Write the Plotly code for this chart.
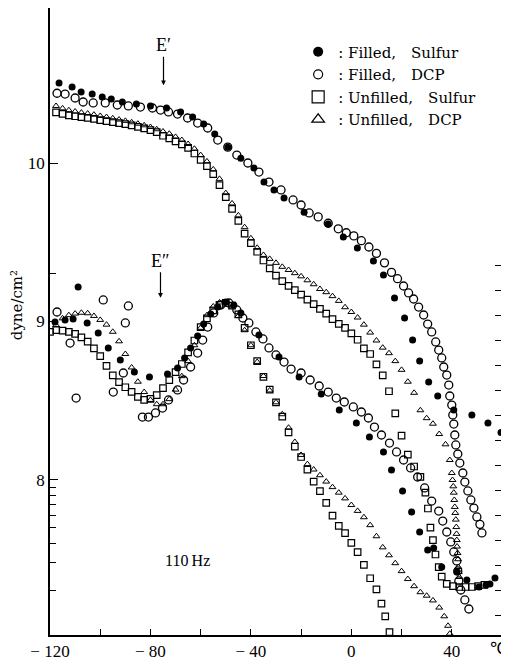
import plotly.graph_objects as go

# ---------------- data: temperature (°C) and log10 modulus (dyne/cm²) ----------------
# E' , Filled, Sulfur
fs_Ep_T = [-116.4, -111.2, -107.6, -103.2, -99.2, -95.6, -91.2, -85.6, -80, -73.6, -68, -63.2, -58.8, -54.4,
           -49.2, -44, -38.8, -34.8, -30.8, -26.8, -18.8, -9.2, -3.2, 2.4, 8.8, 12.8, 17.2, 21.2, 24.4, 27.2,
           30.8, 34.4, 40.8, 48, 54.4, 59.6]
fs_Ep_L = [10.505, 10.48, 10.448, 10.435, 10.416, 10.404, 10.385, 10.372, 10.36, 10.347, 10.322, 10.29, 10.246,
           10.183, 10.10, 10.03, 9.968, 9.88, 9.83, 9.78, 9.69, 9.615, 9.533, 9.464, 9.382, 9.293, 9.148, 9.022,
           8.883, 8.751, 8.618, 8.53, 8.442, 8.41, 8.36, 8.30]

# E' , Filled, DCP
fd_Ep_T = [-117.2, -114, -110, -106.8, -102.8, -98, -93.2, -88.8, -84, -79.2, -76, -72.8, -69.2, -65.2, -61.2,
           -57.2, -53.2, -49.2, -45.6, -41.2, -36.8, -32.8, -28, -23.2, -20, -16.8, -13.2, -9.2, -5.2, -2, 1, 4,
           7, 10, 13.2, 16, 18.4, 20.8, 22.8, 24.8, 26.8, 28.8, 30.4, 32, 33.6, 34.8, 36, 36.8, 38, 38.8, 39.2,
           40, 40.4, 40.8, 41.2, 41.6, 42.4, 43.2, 44.4, 45.2, 46.4, 47.6, 48.8, 50, 51.2, 52]
fd_Ep_L = [10.44, 10.435, 10.41, 10.385, 10.379, 10.379, 10.366, 10.36, 10.353, 10.347, 10.334, 10.322, 10.309,
           10.284, 10.252, 10.221, 10.145, 10.10, 10.05, 10.0, 9.943, 9.88, 9.83, 9.767, 9.735, 9.685, 9.66, 9.62,
           9.585, 9.56, 9.54, 9.51, 9.47, 9.43, 9.37, 9.31, 9.27, 9.224, 9.18, 9.142, 9.091, 9.041, 8.984, 8.934,
           8.871, 8.82, 8.77, 8.713, 8.662, 8.599, 8.53, 8.473, 8.41, 8.353, 8.284, 8.221, 8.164, 8.107, 8.044,
           7.987, 7.931, 7.874, 7.823, 7.767, 7.72, 7.666]

# E' , Unfilled, Sulfur
us_Ep_T = [-117.6, -115, -112.5, -110, -107.5, -105, -102.5, -100, -97.5, -95, -92.5, -90, -87.5, -85, -82.5,
           -80, -77.5, -75, -72.5, -70, -67.5, -65, -62.5, -60, -57.5, -55, -52.5, -50, -47.5, -45, -42.5, -40,
           -37.5, -35, -32.5, -30, -27.5, -25, -22.5, -20, -17.5, -15, -12.5, -10, -7.5, -5, -2.5, 0, 2.5, 5,
           7.5, 10, 12.5, 15, 17.5, 20, 22.5, 25, 27.5, 29.5, 30.5, 31.5, 32.5, 33.5, 34.8, 36, 38, 40.5, 43,
           45.5, 48, 50.5, 53]
us_Ep_L = [10.32, 10.31, 10.30, 10.295, 10.29, 10.285, 10.278, 10.27, 10.264, 10.258, 10.252, 10.245, 10.238,
           10.228, 10.218, 10.208, 10.195, 10.172, 10.155, 10.136, 10.118, 10.095, 10.06, 10.02, 9.98, 9.93, 9.86,
           9.785, 9.71, 9.635, 9.555, 9.495, 9.44, 9.385, 9.335, 9.29, 9.255, 9.225, 9.198, 9.17, 9.138, 9.11,
           9.08, 9.05, 9.015, 8.985, 8.96, 8.925, 8.885, 8.83, 8.795, 8.73, 8.66, 8.56, 8.42, 8.28, 8.16, 8.085,
           8.02, 7.92, 7.82, 7.70, 7.62, 7.53, 7.45, 7.39, 7.345, 7.33, 7.325, 7.325, 7.325, 7.33, 7.338]

# E' , Unfilled, DCP
ud_Ep_T = [-117.6, -115, -112.5, -110, -107.5, -105, -102.5, -100, -97.5, -95, -92.5, -90, -87.5, -85, -82.5,
           -80, -77.5, -75, -72.5, -70, -67.5, -65, -62.5, -60, -57.5, -55, -52.5, -50, -47.5, -45, -42.5, -40,
           -37.5, -35, -32.5, -30, -27.5, -25, -22.5, -20, -17.5, -15, -12.5, -10, -7.5, -5, -2.5, 0, 2.5, 5,
           7.5, 10, 12.5, 15, 17.5, 20, 22.5, 25, 27.5, 30, 32.5, 35, 37.5, 39.2, 40, 40.3, 40.6, 40.8, 41,
           41.2, 41.4, 41.6, 41.8, 41.9, 42, 42.1, 42.3, 42.5, 42.6, 42.8, 43]
ud_Ep_L = [10.36, 10.345, 10.333, 10.325, 10.318, 10.312, 10.305, 10.297, 10.29, 10.282, 10.274, 10.266, 10.257,
           10.248, 10.238, 10.227, 10.213, 10.199, 10.185, 10.165, 10.145, 10.12, 10.09, 10.05, 10.01, 9.96, 9.9,
           9.81, 9.745, 9.67, 9.595, 9.525, 9.465, 9.42, 9.395, 9.37, 9.345, 9.325, 9.305, 9.285, 9.26, 9.235,
           9.205, 9.185, 9.16, 9.13, 9.09, 9.06, 9.025, 8.98, 8.93, 8.88, 8.835, 8.8, 8.75, 8.695, 8.62, 8.55,
           8.44, 8.39, 8.355, 8.29, 8.225, 8.126, 8.044, 8.0, 7.96, 7.92, 7.874, 7.83, 7.792, 7.75, 7.703, 7.66,
           7.621, 7.58, 7.539, 7.50, 7.451, 7.42, 7.388]

# E'' , Filled, Sulfur
fs_Epp_T = [-118, -114, -110.8, -108.8, -105.2, -100.8, -96.8, -92, -86.4, -80.4, -73.2, -69.2, -66.4, -64,
            -61.2, -58.8, -56, -53.2, -50, -46.8, -44, -36.8, -28.8, -20.8, -12, -4.8, 2, 7.2, 12.8, 16, 20.4,
            24, 27.2, 30.4, 32.8, 36, 42, 46, 50.8, 53.6, 55.2, 57.2]
fs_Epp_L = [8.997, 9.009, 9.016, 9.218, 8.99, 8.927, 8.833, 8.757, 8.681, 8.65, 8.669, 8.707, 8.77, 8.833,
            8.909, 8.984, 9.047, 9.091, 9.123, 9.104, 9.054, 8.915, 8.776, 8.650, 8.543, 8.442, 8.36, 8.271,
            8.177, 8.063, 7.931, 7.798, 7.672, 7.558, 7.571, 7.451, 7.420, 7.369, 7.325, 7.338, 7.344, 7.382]

# E'' , Filled, DCP
fd_Epp_T = [-117.2, -112, -109.6, -98.8, -94.8, -90.8, -90, -88.8, -83.2, -80.8, -78, -75.2, -72.8, -69.2,
            -66.8, -64, -61.2, -59.2, -57.2, -54.8, -52, -48.8, -45.6, -43.2, -40.8, -38, -35.2, -32.8, -30,
            -26.8, -24, -20, -16.4, -12.8, -9.2, -6, -2.8, 0.8, 4, 6.8, 9.2, 12, 15.2, 18, 20.8, 23.6, 26.4,
            29.2, 32, 34.8, 36.4, 38, 39.6, 40.8, 42, 42.4, 42.8, 43.6, 45.2, 46.8]
fd_Epp_L = [9.06, 8.864, 8.517, 9.136, 8.555, 8.675, 8.991, 9.098, 8.397, 8.397, 8.423, 8.454, 8.505, 8.568,
            8.631, 8.713, 8.801, 8.883, 8.965, 9.054, 9.104, 9.117, 9.073, 9.022, 8.991, 8.934, 8.890, 8.833,
            8.789, 8.744, 8.700, 8.675, 8.631, 8.593, 8.555, 8.517, 8.492, 8.461, 8.429, 8.391, 8.334, 8.284,
            8.233, 8.177, 8.126, 8.076, 8.019, 7.950, 7.867, 7.804, 7.741, 7.672, 7.609, 7.546, 7.489, 7.426,
            7.363, 7.306, 7.243, 7.186]

# E'' , Unfilled, Sulfur
us_Epp_T = [-120, -117.5, -115, -112.5, -110, -107.5, -105, -102.5, -100, -97.5, -95, -92.5, -90, -87.5, -85,
            -82.5, -80, -77.5, -75, -72.5, -70, -67.5, -65, -62.5, -60, -57.5, -55, -52.5, -50, -47.5, -45,
            -42.5, -40, -37.5, -35, -32.5, -30, -27.5, -25, -22.5, -20, -17.5, -15, -12.5, -10, -7.5, -5,
            -2.5, 0, 2.5, 5, 7.5, 10, 12, 13.5, 15.2]
us_Epp_L = [8.934, 8.945, 8.942, 8.935, 8.922, 8.9, 8.873, 8.83, 8.782, 8.72, 8.66, 8.618, 8.585, 8.556, 8.525,
            8.505, 8.512, 8.535, 8.58, 8.63, 8.681, 8.732, 8.805, 8.88, 8.965, 9.02, 9.07, 9.105, 9.118, 9.1,
            9.045, 8.96, 8.85, 8.75, 8.65, 8.57, 8.49, 8.40, 8.30, 8.21, 8.145, 8.065, 7.99, 7.93, 7.855, 7.775,
            7.71, 7.665, 7.603, 7.545, 7.465, 7.38, 7.31, 7.22, 7.14, 7.04]

# E'' , Unfilled, DCP
ud_Epp_T = [-117.6, -115, -112.5, -110, -107.5, -105, -102.5, -100, -97.5, -95, -92.5, -90, -87.5, -85, -82.5,
            -80, -77.5, -75, -72.5, -70, -67.5, -65, -62.5, -60, -57.5, -55, -52.5, -50, -47.5, -45, -42.5, -40,
            -37.5, -35, -32.5, -30, -27.5, -25, -22.5, -20, -17.5, -15, -12.5, -10, -7.5, -5, -2.5, 0, 2.5, 5,
            7.5, 10, 12.5, 15, 17.5, 20, 22.5, 25, 27.5, 30, 32.5, 35, 37, 38.5, 39.2]
ud_Epp_L = [8.978, 9.02, 9.04, 9.05, 9.055, 9.052, 9.035, 9.01, 8.98, 8.935, 8.875, 8.795, 8.71, 8.62, 8.555,
            8.505, 8.478, 8.478, 8.51, 8.57, 8.655, 8.75, 8.85, 8.96, 9.04, 9.095, 9.12, 9.12, 9.095, 9.035,
            8.945, 8.85, 8.745, 8.656, 8.565, 8.49, 8.415, 8.33, 8.24, 8.158, 8.1, 8.066, 8.03, 7.99, 7.955,
            7.92, 7.884, 7.842, 7.805, 7.765, 7.715, 7.645, 7.575, 7.525, 7.475, 7.425, 7.375, 7.33, 7.292,
            7.27, 7.24, 7.195, 7.14, 7.08, 7.03]

legend_names = [": Filled,\u2003Sulfur", ": Filled,\u2003DCP",
                ": Unfilled,\u2003Sulfur", ": Unfilled,\u2003DCP"]

x_tickvals = [-120, -100, -80, -60, -40, -20, 0, 20, 40, 60]
x_ticktext = ["\u2212 120", "", "\u2212 80", "", "\u2212 40", "", "0", "", "40", ""]
x_unit = "\u2103"
y_tickvals = [8, 9, 10]
y_ticktext = ["8", "9", "10"]
y_minor = [7.301, 7.477, 7.602, 7.699, 7.778, 7.845, 7.903, 7.954, 9.301]
right_ticks = [0.01, 0.02, 0.03, 0.04, 0.05, 0.06, 0.07, 0.08, 0.09, 0.10, 0.11, 0.12, 0.13, 0.14, 0.15]

# ---------------- styles ----------------
FONT = "Liberation Serif"
LFONT = "DejaVu Serif"
styles = [
    dict(symbol="circle", size=7, color="black", line=dict(width=0, color="black")),
    dict(symbol="circle-open", size=8, color="black", line=dict(width=1.3, color="black")),
    dict(symbol="square-open", size=6.5, color="black", line=dict(width=1.2, color="black")),
    dict(symbol="triangle-up-open", size=6, color="black", line=dict(width=1.0, color="black")),
]
legend_styles = [
    dict(symbol="circle", size=10, color="black"),
    dict(symbol="circle-open", size=9, color="black", line=dict(width=1.2, color="black")),
    dict(symbol="square-open", size=12, color="black", line=dict(width=1.2, color="black")),
    dict(symbol="triangle-up-open", size=11, color="black", line=dict(width=1.2, color="black")),
]

series = [
    (fs_Ep_T, fs_Ep_L, fs_Epp_T, fs_Epp_L),
    (fd_Ep_T, fd_Ep_L, fd_Epp_T, fd_Epp_L),
    (us_Ep_T, us_Ep_L, us_Epp_T, us_Epp_L),
    (ud_Ep_T, ud_Ep_L, ud_Epp_T, ud_Epp_L),
]

fig = go.Figure()
# draw unfilled first so filled symbols sit on top
for i in [3, 2, 1, 0]:
    t1, l1, t2, l2 = series[i]
    for tt, ll in ((t1, l1), (t2, l2)):
        fig.add_trace(go.Scatter(x=tt, y=ll, mode="markers", marker=styles[i],
                                 showlegend=False, hoverinfo="x+y"))

for i in range(4):
    fig.add_trace(go.Scatter(x=[None], y=[None], mode="markers", marker=legend_styles[i],
                             name=legend_names[i], showlegend=True))

# dummy trace to activate the right-hand tick axis
fig.add_trace(go.Scatter(x=[None], y=[None], yaxis="y2", showlegend=False, hoverinfo="skip"))

# page body has an 8 px default margin, so the figure is 501x658 and sits at (8, 8)
fig.update_layout(
    width=501, height=658, autosize=False,
    margin=dict(l=42, r=7, t=0, b=31),
    paper_bgcolor="white", plot_bgcolor="white",
    font=dict(family=FONT, size=17, color="black"),
    showlegend=True,
    legend=dict(x=0.549, y=0.956, xanchor="left", yanchor="top", bgcolor="rgba(0,0,0,0)",
                font=dict(family=LFONT, size=15, color="black"), itemwidth=30, tracegroupgap=0),
    xaxis=dict(range=[-120, 60], tickmode="array", tickvals=x_tickvals, ticktext=x_ticktext,
               ticks="inside", ticklen=6, tickwidth=1.2, tickcolor="black", automargin=False,
               showline=True, linewidth=1.6, linecolor="black", mirror=True,
               showgrid=False, zeroline=False, tickfont=dict(family=FONT, size=17)),
    yaxis=dict(range=[7.022, 10.978], tickmode="array", tickvals=y_tickvals, ticktext=y_ticktext,
               ticks="inside", ticklen=8, tickwidth=1.2, tickcolor="black", automargin=False,
               minor=dict(tickmode="array", tickvals=y_minor, ticks="inside", ticklen=6,
                          tickwidth=1, tickcolor="black", showgrid=False),
               showline=True, linewidth=1.6, linecolor="black", mirror=True,
               showgrid=False, zeroline=False, tickfont=dict(family=FONT, size=17)),
    yaxis2=dict(overlaying="y", side="right", anchor="x", range=[0.002, 0.2528], automargin=False,
                tickmode="array", tickvals=right_ticks, showticklabels=False,
                ticks="inside", ticklen=7, tickwidth=1, tickcolor="black",
                showline=False, showgrid=False, zeroline=False),
    annotations=[
        dict(x=-74.8, y=10.49, xref="x", yref="y", text="E\u2032", showarrow=True,
             ax=0, ay=-40, arrowhead=2, arrowsize=0.8, arrowwidth=1.2, arrowcolor="black",
             font=dict(family=FONT, size=18)),
        dict(x=-76, y=9.15, xref="x", yref="y", text="E\u2033", showarrow=True,
             ax=0, ay=-37, arrowhead=2, arrowsize=0.8, arrowwidth=1.2, arrowcolor="black",
             font=dict(family=FONT, size=18)),
        dict(x=-65.2, y=7.49, xref="x", yref="y", text="110\u2009Hz", showarrow=False,
             font=dict(family=FONT, size=16)),
        dict(x=58.8, y=0, xref="x", yref="paper", xanchor="center", yanchor="top", yshift=-2,
             text=x_unit, showarrow=False, font=dict(family=FONT, size=17)),
        dict(x=-0.073, y=0.526, xref="paper", yref="paper", xanchor="center", yanchor="middle",
             text="dyne/cm\u00b2", showarrow=False, textangle=-90,
             font=dict(family=LFONT, size=15)),
    ],
)

fig.write_html("out.html")
